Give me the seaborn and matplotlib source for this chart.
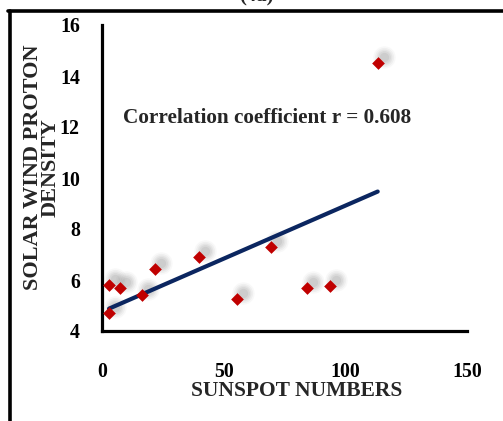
import numpy as np
import pandas as pd
import matplotlib
matplotlib.use("Agg")
import matplotlib.pyplot as plt
from matplotlib.transforms import offset_copy
from matplotlib.lines import Line2D
import seaborn as sns

# ---- data ----
sunspot = [113.3, 3.0, 7.4, 2.9, 16.6, 21.9, 39.9, 55.6, 69.5, 84.4, 93.5]
density = [14.5, 5.8, 5.7, 4.7, 5.4, 6.45, 6.9, 5.25, 7.3, 5.7, 5.75]
x_ticks = [0, 50, 100, 150]
y_ticks = [4, 6, 8, 10, 12, 14, 16]
title = "(4a)"
xlabel = "SUNSPOT NUMBERS"
ylabel = "SOLAR WIND PROTON\nDENSITY"
annot = "Correlation coefficient r = 0.608"

df = pd.DataFrame({"x": sunspot, "y": density})

sns.set_style("white")
plt.rcParams["font.family"] = ["Liberation Serif", "DejaVu Serif"]
plt.rcParams["font.weight"] = "bold"

W, H = 503, 421
fig = plt.figure(figsize=(W / 100, H / 100), dpi=100)
ax = fig.add_axes([102 / W, (H - 331) / H, 365 / W, 306 / H])

RED = "#C00000"
NAVY = "#0B2660"

# blurred shadows (up-right offset)
for s, a in [(260, 0.05), (190, 0.07), (130, 0.09), (85, 0.11), (45, 0.13)]:
    tr = offset_copy(ax.transData, fig=fig, x=6, y=6, units="dots")
    ax.scatter(df["x"], df["y"], s=s, marker="o", color="gray",
               alpha=a, linewidths=0, transform=tr, zorder=1)

sns.regplot(data=df, x="x", y="y", ax=ax, scatter=False, ci=None,
            line_kws={"color": NAVY, "linewidth": 3.0,
                      "solid_capstyle": "round", "zorder": 3})
sns.scatterplot(data=df, x="x", y="y", ax=ax, marker="D", s=42,
                color=RED, linewidth=0, zorder=4)

ax.set_xlim(0, 150)
ax.set_ylim(4, 16)
ax.set_xticks(x_ticks)
ax.set_yticks(y_ticks)
ax.set_xticks(np.arange(0, 151, 10), minor=True)
ax.set_yticks(np.linspace(4, 16, 43), minor=True)
ax.tick_params(axis="both", which="both", direction="in", width=1.8,
               length=2.6, colors="black")
ax.tick_params(axis="x", which="major", pad=22, labelsize=14.3)
ax.tick_params(axis="y", which="major", pad=16, labelsize=14.3)
for lab in ax.get_xticklabels() + ax.get_yticklabels():
    lab.set_fontweight("bold")

for side in ["top", "right"]:
    ax.spines[side].set_visible(False)
for side in ["left", "bottom"]:
    ax.spines[side].set_linewidth(2.3)
    ax.spines[side].set_color("black")
    ax.spines[side].set_capstyle("projecting")

ax.set_xlabel(xlabel, fontsize=15.5, fontweight="bold")
ax.xaxis.set_label_coords(0.534, -0.165)
ax.set_ylabel(ylabel, fontsize=16, fontweight="bold", linespacing=0.85)
ax.yaxis.set_label_coords(-0.112, 0.535)

ax.text(8.6, 12.35, annot, fontsize=15.3, fontweight="bold", va="center",
        ha="left")

# outer frame (partially visible)
fig.add_artist(Line2D([9.5 / W, 9.5 / W], [0, (H - 10.5) / H],
                      transform=fig.transFigure, color="black", linewidth=2.6))
fig.add_artist(Line2D([8.3 / W, 1.0], [(H - 10.5) / H, (H - 10.5) / H],
                      transform=fig.transFigure, color="black", linewidth=2.6))
fig.text(256 / W, 1 - 1.5 / H, title, fontsize=15, fontweight="bold",
         ha="center", va="baseline")

fig.savefig("out.png", dpi=100)
